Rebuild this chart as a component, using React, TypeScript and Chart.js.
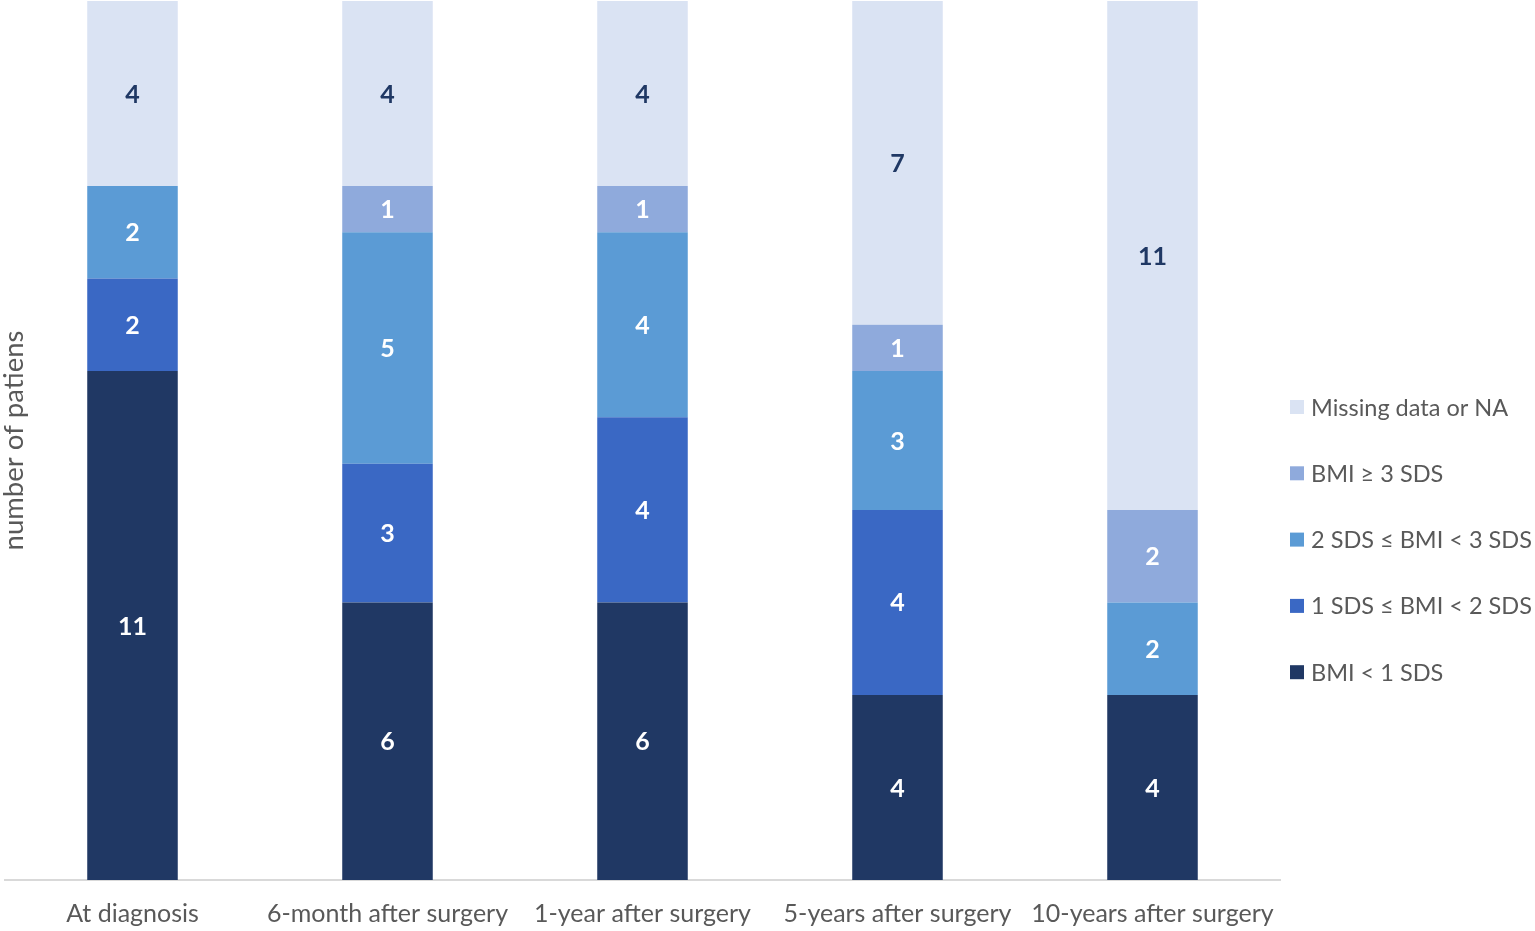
import { Chart, registerables } from "chart.js";
import type { Plugin } from "chart.js";
import { useEffect, useRef } from "react";

Chart.register(...registerables);

const categories = [
  "At diagnosis",
  "6-month after surgery",
  "1-year after surgery",
  "5-years after surgery",
  "10-years after surgery",
];

const bmiBelow1 = [11, 6, 6, 4, 4];
const bmi1to2 = [2, 3, 4, 4, 0];
const bmi2to3 = [2, 5, 4, 3, 2];
const bmiAbove3 = [0, 1, 1, 1, 2];
const missing = [4, 4, 4, 7, 11];

const FONT = "Lato, 'Open Sans', sans-serif";
const GREY = "#595959";

// value labels in the middle of each segment
const segmentLabels: Plugin<"bar"> = {
  id: "segmentLabels",
  afterDatasetsDraw(chart) {
    const ctx = chart.ctx;
    ctx.save();
    ctx.font = `bold 25px ${FONT}`;
    ctx.textAlign = "center";
    ctx.textBaseline = "middle";
    chart.data.datasets.forEach((ds, i) => {
      const meta = chart.getDatasetMeta(i);
      ctx.fillStyle = ds.label === "Missing data or NA" ? "#1F3864" : "#ffffff";
      meta.data.forEach((bar: any, j) => {
        const v = ds.data[j] as number;
        if (!v) return;
        ctx.fillText(String(v), bar.x, (bar.y + bar.base) / 2 + 1);
      });
    });
    ctx.restore();
  },
};

// y title and legend drawn by hand so they sit where the original puts them
const extras: Plugin<"bar"> = {
  id: "extras",
  afterDraw(chart) {
    const ctx = chart.ctx;
    const { top, bottom, right } = chart.chartArea;
    ctx.save();
    ctx.translate(14, (top + bottom) / 2);
    ctx.rotate(-Math.PI / 2);
    ctx.font = `27.5px ${FONT}`;
    ctx.fillStyle = GREY;
    ctx.textAlign = "center";
    ctx.textBaseline = "middle";
    ctx.fillText("number of patiens", 0, 0);
    ctx.restore();

    ctx.save();
    ctx.font = `23.5px ${FONT}`;
    ctx.textAlign = "left";
    ctx.textBaseline = "middle";
    const sets = [...chart.data.datasets].reverse();
    sets.forEach((ds, k) => {
      const y = 407 + k * 66.3;
      ctx.fillStyle = ds.backgroundColor as string;
      ctx.fillRect(right + 10, y - 7, 14, 14);
      ctx.fillStyle = GREY;
      ctx.fillText(ds.label as string, right + 31, y + 1);
    });
    ctx.restore();
  },
};

function App(): JSX.Element {
  const canvasRef = useRef<HTMLCanvasElement | null>(null);

  useEffect(() => {
    document.body.style.margin = "0";
    const canvas = canvasRef.current;
    if (!canvas) return;

    const chart = new Chart(canvas, {
      type: "bar",
      data: {
        labels: categories,
        datasets: [
          { label: "BMI < 1 SDS", data: bmiBelow1, backgroundColor: "#203864" },
          { label: "1 SDS ≤ BMI < 2 SDS", data: bmi1to2, backgroundColor: "#3A68C4" },
          { label: "2 SDS ≤ BMI < 3 SDS", data: bmi2to3, backgroundColor: "#5B9BD5" },
          { label: "BMI ≥ 3 SDS", data: bmiAbove3, backgroundColor: "#8FAADC" },
          { label: "Missing data or NA", data: missing, backgroundColor: "#DAE3F3" },
        ],
      },
      options: {
        animation: false,
        responsive: true,
        maintainAspectRatio: false,
        layout: { padding: { left: 5, top: 1, right: 255, bottom: -17 } },
        datasets: { bar: { categoryPercentage: 1, barPercentage: 0.355 } },
        scales: {
          x: {
            stacked: true,
            grid: { display: false, drawTicks: false },
            border: { display: true, color: "#D9D9D9", width: 2 },
            ticks: { color: GREY, font: { family: FONT, size: 25 }, padding: 19, maxRotation: 0 },
          },
          y: {
            stacked: true,
            display: false,
            min: 0,
            max: 19,
          },
        },
        plugins: {
          tooltip: { enabled: false },
          legend: { display: false },
        },
      },
      plugins: [segmentLabels, extras],
    });

    return () => {
      chart.destroy();
    };
  }, []);

  return (
    <div style={{ position: "relative", width: 1535, height: 931 }}>
      <canvas ref={canvasRef}></canvas>
    </div>
  );
}

export default App;
